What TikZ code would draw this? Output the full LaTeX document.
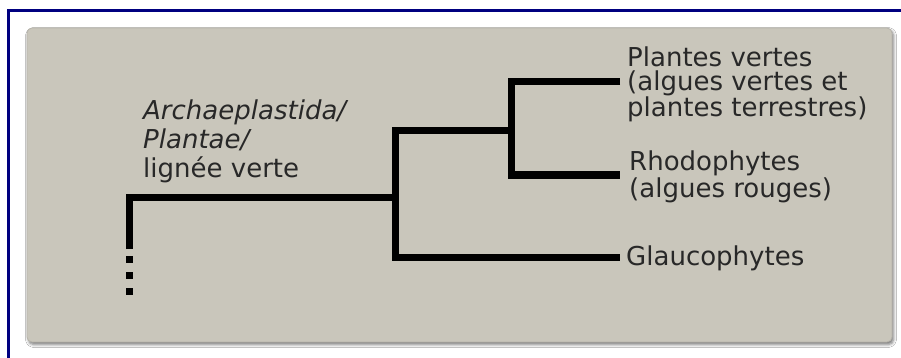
\documentclass[tikz,border=0pt]{standalone}
\usepackage{fontspec}
\setmainfont{DejaVu Sans}
\usetikzlibrary{shadows.blur}
\definecolor{panel}{RGB}{201,198,187}
\definecolor{paneledge}{RGB}{182,179,170}
\definecolor{frameblue}{RGB}{0,0,128}
\definecolor{txt}{RGB}{40,40,40}
\begin{document}
\begin{tikzpicture}[x=1pt,y=-1pt,
  branch/.style={line width=7pt, line join=miter, line cap=butt, draw=black},
  leaflabel/.style={font=\fontsize{26}{24.5}\selectfont, text=txt, inner sep=0pt, align=left, anchor=base west},
  cladelabel/.style={font=\fontsize{26}{28.5}\selectfont, text=txt, inner sep=0pt, align=left, anchor=base west},
 ]
\useasboundingbox (0,0) rectangle (901,358);
\fill[white] (0,0) rectangle (901,358);
\draw[frameblue, line width=3pt, line join=miter] (901,10.75) -- (8.5,10.75) -- (8.5,358);
\fill[panel, draw=paneledge, line width=0.8pt, rounded corners=5pt,
  blur shadow={shadow xshift=1.5pt, shadow yshift=-2.5pt, shadow blur radius=3pt, shadow opacity=55}]
  (27,28) rectangle (892,342);

% base anchor of a multi-line node = baseline of its last line
\node[leaflabel] (pv) at (627,117) {Plantes vertes\\(algues vertes et\\plantes terrestres)};
\node[leaflabel] (rh) at (629,197) {Rhodophytes\\(algues rouges)};
\node[leaflabel] (gl) at (626,265) {Glaucophytes};
\node[cladelabel] (ar) at (143,177) {\textit{Archaeplastida/}\\\textit{Plantae/}\\lignée verte};

\coordinate (rootend) at (129,249);
\coordinate (A) at (395,197);
\coordinate (B) at (511.5,131);
\coordinate (pvEnd) at (620,82);
\coordinate (rhEnd) at (620,175);
\coordinate (glEnd) at (620,257);
\coordinate (dotsTop) at (129,256);
\coordinate (dotsBot) at (129,296);

\draw[branch] (rootend) |- (A);
\draw[branch] (B) -| (A) |- (glEnd);
\draw[branch] (pvEnd) -| (B) |- (rhEnd);
\draw[branch, dash pattern=on 7pt off 9pt] (dotsTop) -- (dotsBot);
\end{tikzpicture}
\end{document}
